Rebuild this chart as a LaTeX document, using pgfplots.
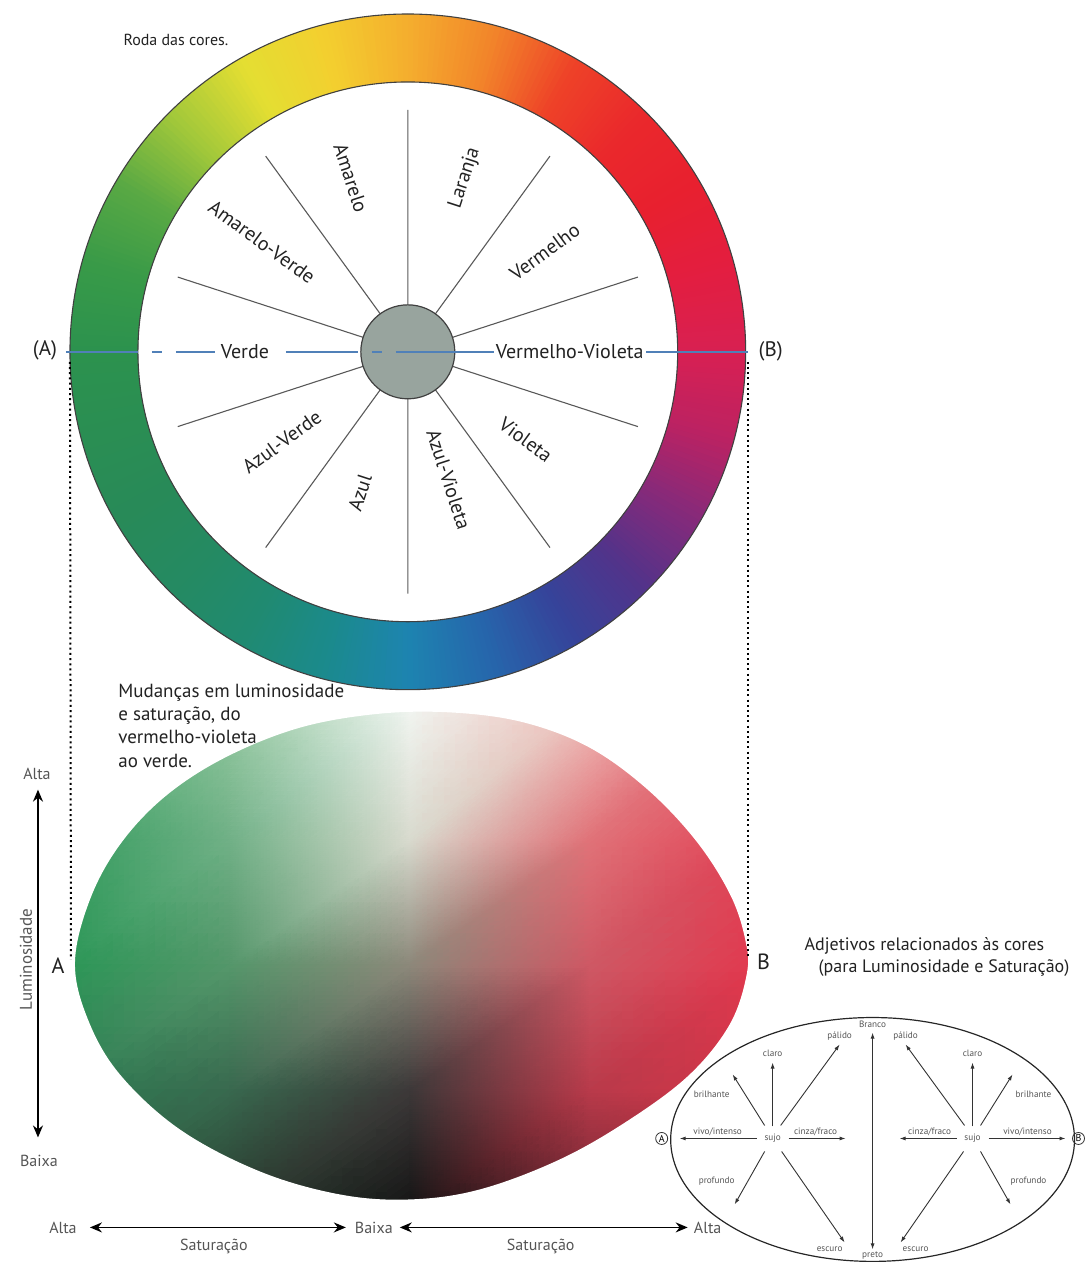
\documentclass[border=0pt]{standalone}
\usepackage{fontspec}
\setmainfont{PT Sans}
\usepackage{pgfplots}
\pgfplotsset{compat=1.18}
\usetikzlibrary{arrows.meta}

% colour wheel, one key colour every 15 degrees (counter-clockwise from east)
\definecolor{w0}{HTML}{D82052}
\definecolor{w1}{HTML}{E31E40}
\definecolor{w2}{HTML}{E8202F}
\definecolor{w3}{HTML}{EA282C}
\definecolor{w4}{HTML}{EE4228}
\definecolor{w5}{HTML}{F2852A}
\definecolor{w6}{HTML}{F4AE2E}
\definecolor{w7}{HTML}{F3CF2F}
\definecolor{w8}{HTML}{E4DE32}
\definecolor{w9}{HTML}{A2C83A}
\definecolor{w10}{HTML}{58A844}
\definecolor{w11}{HTML}{389A48}
\definecolor{w12}{HTML}{2C924E}
\definecolor{w13}{HTML}{2A8E53}
\definecolor{w14}{HTML}{288A58}
\definecolor{w15}{HTML}{258A62}
\definecolor{w16}{HTML}{208A70}
\definecolor{w17}{HTML}{1B8A8C}
\definecolor{w18}{HTML}{1D84B0}
\definecolor{w19}{HTML}{2666AC}
\definecolor{w20}{HTML}{35449A}
\definecolor{w21}{HTML}{52338A}
\definecolor{w22}{HTML}{862A7A}
\definecolor{w23}{HTML}{BC2262}
\definecolor{hubgray}{HTML}{98A49E}
\definecolor{txt}{HTML}{222222}
\definecolor{soft}{HTML}{555555}
\definecolor{lineblue}{HTML}{5080B8}

\tikzset{
  lab/.style={font=\fontsize{10}{12}\selectfont, text=txt, inner sep=1pt},
  small/.style={font=\fontsize{4.6}{5}\selectfont, text=soft, inner sep=0.5pt},
  bigarrow/.style={black, line width=0.8pt, {Stealth[length=6pt,width=5pt]}-{Stealth[length=6pt,width=5pt]}},
  arr/.style={black!80, line width=0.45pt, -{Latex[length=3pt,width=2pt]}},
}

\begin{document}
\begin{tikzpicture}
\begin{axis}[
    x=0.5pt, y=0.5pt,
    xmin=0, xmax=1086, ymin=0, ymax=1262,
    y dir=reverse,
    hide axis, clip=false,
]
\path (axis cs:0,0) (axis cs:1086,1262);

% ---- lower blob: lightness / saturation field ----
\addplot[surf, shader=interp, mesh/cols=5,
         mesh/color input=explicit, point meta=explicit symbolic]
  table[meta=c] {
x y c
60 700 rgb255=120,190,140
230 700 rgb255=150,202,162
410 700 rgb255=242,246,242
590 700 rgb255=240,192,188
760 700 rgb255=230,104,118
60 840 rgb255=52,156,94
230 840 rgb255=112,176,134
410 840 rgb255=216,218,206
590 840 rgb255=224,114,120
760 840 rgb255=226,66,86
60 965 rgb255=42,150,86
230 965 rgb255=84,150,106
410 965 rgb255=140,136,122
590 965 rgb255=206,88,100
760 965 rgb255=226,56,78
60 1090 rgb255=46,124,82
230 1090 rgb255=56,104,78
410 1090 rgb255=60,56,56
590 1090 rgb255=184,58,74
760 1090 rgb255=214,52,72
60 1215 rgb255=42,96,64
230 1215 rgb255=40,58,46
410 1215 rgb255=18,18,18
590 1215 rgb255=110,36,48
760 1215 rgb255=180,42,64
};
% white mask outside the blob outline
\fill[white, even odd rule] (axis cs:55,695) rectangle (axis cs:765,1220)
  plot[smooth cycle, tension=0.6] coordinates {
   (75,963) (90,900) (120,845) (165,797) (225,758) (300,728) (380,714)
   (455,713) (525,723) (590,748) (648,790) (697,842) (731,896) (746,942)
   (747,975) (730,1025) (690,1075) (630,1120) (560,1160) (480,1190)
   (410,1200) (340,1195) (260,1172) (180,1130) (120,1075) (88,1020)};

% ---- colour ring ----
\pgfplotsextra{%
  \foreach \a/\ca/\cb in {0/w0/w1,15/w1/w2,30/w2/w3,45/w3/w4,60/w4/w5,75/w5/w6,
      90/w6/w7,105/w7/w8,120/w8/w9,135/w9/w10,150/w10/w11,165/w11/w12,
      180/w12/w13,195/w13/w14,210/w14/w15,225/w15/w16,240/w16/w17,255/w17/w18,
      270/w18/w19,285/w19/w20,300/w20/w21,315/w21/w22,330/w22/w23,345/w23/w0}{%
    \foreach \k in {0,...,14}{%
      \pgfmathsetmacro\ta{\a+\k}%
      \pgfmathsetmacro\tb{\ta+1.35}%
      \pgfmathtruncatemacro\p{97-6.667*\k}%
      \pgfmathsetmacro\xa{408+338*cos(\ta)}\pgfmathsetmacro\ya{352-338*sin(\ta)}%
      \pgfmathsetmacro\xb{408+338*cos(\tb)}\pgfmathsetmacro\yb{352-338*sin(\tb)}%
      \pgfmathsetmacro\xc{408+270*cos(\tb)}\pgfmathsetmacro\yc{352-270*sin(\tb)}%
      \pgfmathsetmacro\xd{408+270*cos(\ta)}\pgfmathsetmacro\yd{352-270*sin(\ta)}%
      \fill[fill=\ca!\p!\cb] (axis cs:\xa,\ya) -- (axis cs:\xb,\yb)
        -- (axis cs:\xc,\yc) -- (axis cs:\xd,\yd) -- cycle;
    }%
  }%
  \draw[black!75, line width=0.55pt] (axis cs:408,352) circle[radius=169pt];
  \draw[black!75, line width=0.55pt] (axis cs:408,352) circle[radius=135pt];
}

% spokes
\addplot[black!65, line width=0.55pt, unbounded coords=jump] coordinates {
 (408,305) (408,110) (nan,nan)
 (435.6,314.0) (550.2,156.2) (nan,nan)
 (452.7,337.5) (638.2,277.2) (nan,nan)
 (452.7,366.5) (638.2,426.8) (nan,nan)
 (435.6,390.0) (550.2,547.8) (nan,nan)
 (408,399) (408,594) (nan,nan)
 (380.4,390.0) (265.8,547.8) (nan,nan)
 (363.3,366.5) (177.8,426.8) (nan,nan)
 (363.3,337.5) (177.8,277.2) (nan,nan)
 (380.4,314.0) (265.8,156.2)
};
\filldraw[fill=hubgray, draw=black!75, line width=0.6pt] (axis cs:408,352) circle[radius=23.5pt];

% A-B axis through the wheel
\addplot[lineblue, line width=0.9pt, dash pattern=on 36pt off 7pt on 5pt off 7pt]
  coordinates {(66,352) (408,352)};
\addplot[lineblue, line width=0.9pt] coordinates {(408,352) (748,352)};

% sector names
\node[lab, rotate=-72] at (axis cs:351,178) {Amarelo};
\node[lab, rotate=72] at (axis cs:465,178) {Laranja};
\node[lab, rotate=36] at (axis cs:545,252) {Vermelho};
\node[lab, fill=white] at (axis cs:570,352) {Vermelho-Violeta};
\node[lab, rotate=-36] at (axis cs:526,440) {Violeta};
\node[lab, rotate=-72] at (axis cs:449,480) {Azul-Violeta};
\node[lab, rotate=72] at (axis cs:360,493) {Azul};
\node[lab, rotate=36] at (axis cs:282,442) {Azul-Verde};
\node[lab, fill=white, inner sep=3pt] at (axis cs:245,352) {Verde};
\node[lab, rotate=-36] at (axis cs:262,242) {Amarelo-Verde};

\node[font=\fontsize{8}{10}\selectfont, text=txt] at (axis cs:176,40) {Roda das cores.};
\node[font=\fontsize{10.5}{12}\selectfont, text=txt] at (axis cs:45,350) {(A)};
\node[font=\fontsize{10.5}{12}\selectfont, text=txt] at (axis cs:771,352) {(B)};

% projection lines from the wheel to the blob
\addplot[black, line width=1pt, dash pattern=on 1pt off 1.6pt] coordinates {(70,362) (71,960)};
\addplot[black, line width=1pt, dash pattern=on 1pt off 1.6pt] coordinates {(748,362) (748,958)};
\node[font=\fontsize{11}{12}\selectfont, text=txt] at (axis cs:58,966) {A};
\node[font=\fontsize{11}{12}\selectfont, text=txt] at (axis cs:764,962) {B};

\node[anchor=north west, align=left, inner sep=0pt, text=txt,
      font=\fontsize{9.5}{11.6}\selectfont] at (axis cs:118,684)
  {Mudanças em luminosidade\\e saturação, do\\vermelho-violeta\\ao verde.};

% lightness axis
\addplot[bigarrow] coordinates {(38,790) (38,1138)};
\node[font=\fontsize{8}{10}\selectfont, text=soft] at (axis cs:37,774) {Alta};
\node[font=\fontsize{8}{10}\selectfont, text=soft] at (axis cs:39,1161) {Baixa};
\node[font=\fontsize{8.5}{10}\selectfont, text=soft, rotate=90] at (axis cs:26,960) {Luminosidade};

% saturation axis
\addplot[bigarrow] coordinates {(90,1228) (346,1228)};
\addplot[bigarrow] coordinates {(400,1228) (688,1228)};
\node[font=\fontsize{8}{10}\selectfont, text=soft] at (axis cs:63,1228) {Alta};
\node[font=\fontsize{8}{10}\selectfont, text=soft] at (axis cs:374,1228) {Baixa};
\node[font=\fontsize{8}{10}\selectfont, text=soft] at (axis cs:708,1228) {Alta};
\node[font=\fontsize{8}{10}\selectfont, text=soft] at (axis cs:214,1247) {Saturação};
\node[font=\fontsize{8}{10}\selectfont, text=soft] at (axis cs:541,1247) {Saturação};

% ---- adjectives ellipse ----
\node[anchor=west, font=\fontsize{9}{11}\selectfont, text=txt] at (axis cs:798,946) {Adjetivos relacionados às cores};
\node[anchor=west, font=\fontsize{9}{11}\selectfont, text=txt] at (axis cs:812,969) {(para Luminosidade e Saturação)};
\draw[black!85, line width=0.6pt] (axis cs:873,1140) ellipse[x radius=101pt, y radius=61pt];

\addplot[black!80, line width=0.5pt, {Latex[length=3pt,width=2pt]}-{Latex[length=3pt,width=2pt]}]
  coordinates {(873,1033) (873,1250)};
\node[small] at (axis cs:873,1025) {Branco};
\node[small] at (axis cs:873,1256) {preto};

% left cluster (towards A)
\addplot[arr] coordinates {(757,1139) (680,1139)};
\addplot[arr] coordinates {(789,1139) (846,1139)};
\addplot[arr] coordinates {(773,1127) (773,1063)};
\addplot[arr] coordinates {(765,1126) (733,1075)};
\addplot[arr] coordinates {(781,1126) (840,1045)};
\addplot[arr] coordinates {(765,1152) (735,1205)};
\addplot[arr] coordinates {(782,1152) (845,1243)};
\node[small] at (axis cs:773,1139) {sujo};
\node[small] at (axis cs:718,1132) {vivo/intenso};
\node[small] at (axis cs:816,1132) {cinza/fraco};
\node[small] at (axis cs:773,1054) {claro};
\node[small] at (axis cs:712,1095) {brilhante};
\node[small] at (axis cs:840,1037) {pálido};
\node[small] at (axis cs:717,1182) {profundo};
\node[small] at (axis cs:830,1250) {escuro};

% right cluster (towards B)
\addplot[arr] coordinates {(957,1139) (900,1139)};
\addplot[arr] coordinates {(989,1139) (1066,1139)};
\addplot[arr] coordinates {(973,1127) (973,1063)};
\addplot[arr] coordinates {(981,1126) (1013,1075)};
\addplot[arr] coordinates {(965,1126) (906,1045)};
\addplot[arr] coordinates {(981,1152) (1011,1205)};
\addplot[arr] coordinates {(964,1152) (901,1243)};
\node[small] at (axis cs:973,1139) {sujo};
\node[small] at (axis cs:930,1132) {cinza/fraco};
\node[small] at (axis cs:1028,1132) {vivo/intenso};
\node[small] at (axis cs:973,1054) {claro};
\node[small] at (axis cs:1034,1095) {brilhante};
\node[small] at (axis cs:906,1037) {pálido};
\node[small] at (axis cs:1029,1182) {profundo};
\node[small] at (axis cs:916,1250) {escuro};

\node[circle, draw=black!80, line width=0.4pt, inner sep=0.5pt,
      font=\fontsize{5}{5}\selectfont] at (axis cs:662,1139) {A};
\node[circle, draw=black!80, line width=0.4pt, inner sep=0.5pt,
      font=\fontsize{5}{5}\selectfont] at (axis cs:1079,1139) {B};
\end{axis}
\end{tikzpicture}
\end{document}
